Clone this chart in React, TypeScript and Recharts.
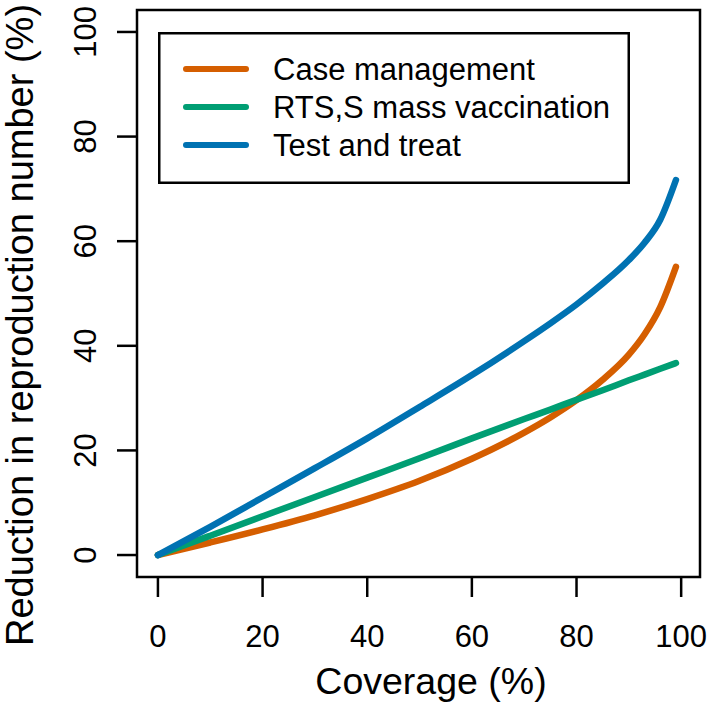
import React from 'react';
import { LineChart, Line, XAxis, YAxis, ReferenceArea, Legend, Label } from 'recharts';

const coverage = [0, 10, 20, 30, 40, 50, 60, 70, 75, 80, 85, 90, 93, 96, 99];
const caseManagement = [0, 2.4, 4.9, 7.6, 10.7, 14.2, 18.4, 23.4, 26.3, 29.6, 33.5, 38.3, 42.2, 47.4, 55.1];
const rtssVaccination = [0, 3.7, 7.4, 11.1, 14.8, 18.5, 22.3, 26, 27.8, 29.7, 31.5, 33.4, 34.5, 35.6, 36.7];
const testAndTreat = [0, 5.4, 11, 16.6, 22.3, 28.3, 34.4, 40.9, 44.3, 47.9, 51.9, 56.4, 59.7, 64.1, 71.7];

const xTicks = [0, 20, 40, 60, 80, 100];
const yTicks = [0, 20, 40, 60, 80, 100];

const series = [
  { key: 'cm', name: 'Case management', color: '#D55E00', values: caseManagement },
  { key: 'rtss', name: 'RTS,S mass vaccination', color: '#009E73', values: rtssVaccination },
  { key: 'tt', name: 'Test and treat', color: '#0072B2', values: testAndTreat },
];

const data = coverage.map((c, i) => ({
  coverage: c,
  cm: caseManagement[i],
  rtss: rtssVaccination[i],
  tt: testAndTreat[i],
}));

const FONT = '"Liberation Sans", Arial, Helvetica, sans-serif';
const X_DOMAIN: [number, number] = [-4, 103.6];
const Y_DOMAIN: [number, number] = [-4.2, 104.2];

const YTick = (props: any) => {
  const { x, y, payload } = props;
  return (
    <text
      transform={`translate(${x},${y}) rotate(-90)`}
      textAnchor="middle"
      dy="0.35em"
      fontSize={31}
      fontFamily={FONT}
      fill="#000"
    >
      {payload.value}
    </text>
  );
};

const LegendBox = () => (
  <svg width={472} height={152} style={{ display: 'block' }}>
    <rect x={1.25} y={1.25} width={469.5} height={149.5} fill="#fff" stroke="#000" strokeWidth={2.5} />
    {series.map((s, i) => (
      <g key={s.key}>
        <line x1={28} x2={88} y1={37 + i * 38} y2={37 + i * 38} stroke={s.color} strokeWidth={6} strokeLinecap="round" />
        <text x={115} y={37 + i * 38} dy="0.35em" fontSize={31} fontFamily={FONT} fill="#000">
          {s.name}
        </text>
      </g>
    ))}
  </svg>
);

export default function App() {
  return (
    <div style={{ position: 'absolute', left: 0, top: 0, background: '#fff' }}>
      <LineChart width={711} height={703} data={data} margin={{ top: 10, right: 11, bottom: 0, left: 0 }}>
        <XAxis
          dataKey="coverage"
          type="number"
          domain={X_DOMAIN}
          allowDataOverflow
          ticks={xTicks}
          height={126}
          axisLine={false}
          tickSize={20}
          tickMargin={28}
          tickLine={{ stroke: '#000', strokeWidth: 2.5 }}
          tick={{ fill: '#000', fontSize: 31, fontFamily: FONT }}
        >
          <Label
            content={() => (
              <text x={431} y={694} textAnchor="middle" fontSize={37.5} fontFamily={FONT} fill="#000">
                Coverage (%)
              </text>
            )}
          />
        </XAxis>
        <YAxis
          type="number"
          domain={Y_DOMAIN}
          allowDataOverflow
          ticks={yTicks}
          width={137}
          axisLine={false}
          tickSize={20}
          tickMargin={32}
          tickLine={{ stroke: '#000', strokeWidth: 2.5 }}
          tick={<YTick />}
        >
          <Label
            content={() => (
              <text
                transform="translate(33,325) rotate(-90)"
                textAnchor="middle"
                fontSize={38}
                fontFamily={FONT}
                fill="#000"
              >
                Reduction in reproduction number (%)
              </text>
            )}
          />
        </YAxis>
        {series.map((s) => (
          <Line
            key={s.key}
            dataKey={s.key}
            name={s.name}
            type="monotone"
            stroke={s.color}
            strokeWidth={6.5}
            strokeLinecap="round"
            strokeLinejoin="round"
            dot={false}
            activeDot={false}
            isAnimationActive={false}
          />
        ))}
        <ReferenceArea
          x1={X_DOMAIN[0]}
          x2={X_DOMAIN[1]}
          y1={Y_DOMAIN[0]}
          y2={Y_DOMAIN[1]}
          fill="none"
          stroke="#000"
          strokeWidth={2.5}
          ifOverflow="visible"
        />
        <Legend
          layout="vertical"
          align="center"
          verticalAlign="middle"
          content={() => <LegendBox />}
          wrapperStyle={{ position: 'absolute', left: 158, top: 32, width: 472, height: 152 }}
        />
      </LineChart>
    </div>
  );
}
